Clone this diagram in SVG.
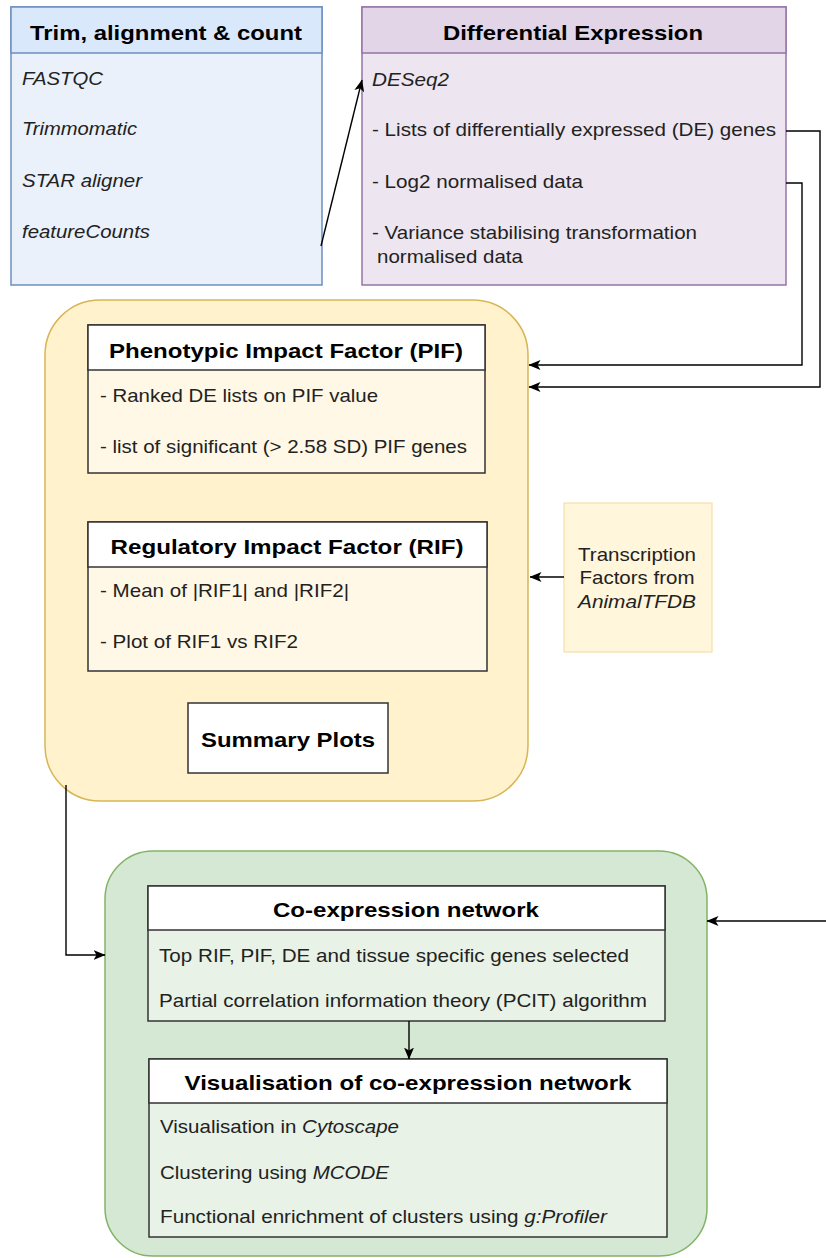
<svg xmlns="http://www.w3.org/2000/svg" width="826" height="1258" viewBox="0 0 826 1258">
<style>
  text { font-family: "Liberation Sans", Arial, sans-serif; }
  .title { font-size: 21px; font-weight: bold; fill: #000; text-anchor: middle; }
  .body { font-size: 19px; fill: #222; }
  .it { font-style: italic; }
  .conn { fill: none; stroke: #000; stroke-width: 1.4; marker-end: url(#arrow); }
  .ibox { stroke: #333; stroke-width: 1.5; }
</style>
<defs>
  <marker id="arrow" viewBox="0 0 12 10" markerWidth="12" markerHeight="10" refX="11.5" refY="5" orient="auto" markerUnits="userSpaceOnUse">
    <path d="M0,0 L12,5 L0,10 L3,5 Z" fill="#000"/>
  </marker>
</defs>
<rect width="826" height="1258" fill="#fff"/>

<g id="trim">
  <rect x="11" y="7" width="311" height="278" fill="#eaf1fb" stroke="#6c8ebf" stroke-width="1.5"/>
  <rect x="11" y="7" width="311" height="46" fill="#dae8fc" stroke="#6c8ebf" stroke-width="1.5"/>
  <text class="title" x="166" y="40" textLength="272" lengthAdjust="spacingAndGlyphs">Trim, alignment &amp; count</text>
  <text class="body it" x="22" y="85" textLength="81" lengthAdjust="spacingAndGlyphs">FASTQC</text>
  <text class="body it" x="22" y="135" textLength="115" lengthAdjust="spacingAndGlyphs">Trimmomatic</text>
  <text class="body it" x="22" y="187" textLength="120" lengthAdjust="spacingAndGlyphs">STAR aligner</text>
  <text class="body it" x="22" y="238" textLength="128" lengthAdjust="spacingAndGlyphs">featureCounts</text>
</g>

<g id="de">
  <rect x="362" y="7" width="424" height="278" fill="#ede6f0" stroke="#9673a6" stroke-width="1.5"/>
  <rect x="362" y="7" width="424" height="46" fill="#e1d5e7" stroke="#9673a6" stroke-width="1.5"/>
  <text class="title" x="573" y="40" textLength="260" lengthAdjust="spacingAndGlyphs">Differential Expression</text>
  <text class="body it" x="372" y="86" textLength="77" lengthAdjust="spacingAndGlyphs">DESeq2</text>
  <text class="body" x="372" y="136" textLength="404" lengthAdjust="spacingAndGlyphs">- Lists of differentially expressed (DE) genes</text>
  <text class="body" x="372" y="188" textLength="211" lengthAdjust="spacingAndGlyphs">- Log2 normalised data</text>
  <text class="body" x="372" y="239" textLength="325" lengthAdjust="spacingAndGlyphs">- Variance stabilising transformation</text>
  <text class="body" x="377" y="263" textLength="146" lengthAdjust="spacingAndGlyphs">normalised data</text>
</g>

<g id="impact">
  <rect x="45" y="300" width="483" height="501" rx="55" ry="55" fill="#fff2cc" stroke="#d6b656" stroke-width="1.5"/>
</g>

<g id="pif">
  <rect class="ibox" x="88" y="325" width="397" height="148" fill="#fff8e6"/>
  <rect class="ibox" x="88" y="325" width="397" height="45" fill="#fff"/>
  <text class="title" x="286" y="358" textLength="354" lengthAdjust="spacingAndGlyphs">Phenotypic Impact Factor (PIF)</text>
  <text class="body" x="100" y="402" textLength="278" lengthAdjust="spacingAndGlyphs">- Ranked DE lists on PIF value</text>
  <text class="body" x="100" y="453" textLength="367" lengthAdjust="spacingAndGlyphs">- list of significant (&gt; 2.58 SD) PIF genes</text>
</g>

<g id="rif">
  <rect class="ibox" x="88" y="522" width="399" height="149" fill="#fff8e6"/>
  <rect class="ibox" x="88" y="522" width="399" height="45" fill="#fff"/>
  <text class="title" x="287" y="554" textLength="353" lengthAdjust="spacingAndGlyphs">Regulatory Impact Factor (RIF)</text>
  <text class="body" x="100" y="597" textLength="249" lengthAdjust="spacingAndGlyphs">- Mean of |RIF1| and |RIF2|</text>
  <text class="body" x="100" y="648" textLength="198" lengthAdjust="spacingAndGlyphs">- Plot of RIF1 vs RIF2</text>
</g>

<g id="summary">
  <rect class="ibox" x="188" y="703" width="200" height="70" fill="#fff"/>
  <text class="title" x="288" y="747" textLength="174" lengthAdjust="spacingAndGlyphs">Summary Plots</text>
</g>

<g id="tf">
  <rect x="564" y="503" width="148" height="149" fill="#fff6dc" stroke="#f3dfa8" stroke-width="1.2"/>
  <text class="body" x="637" y="561" text-anchor="middle" textLength="118" lengthAdjust="spacingAndGlyphs">Transcription</text>
  <text class="body" x="637" y="584" text-anchor="middle" textLength="115" lengthAdjust="spacingAndGlyphs">Factors from</text>
  <text class="body it" x="637" y="608" text-anchor="middle" textLength="118" lengthAdjust="spacingAndGlyphs">AnimalTFDB</text>
</g>

<g id="coexp-group">
  <rect x="105" y="851" width="602" height="405" rx="48" ry="48" fill="#d5e8d4" stroke="#82b366" stroke-width="1.5"/>
</g>

<g id="coexp">
  <rect class="ibox" x="148" y="886" width="517" height="135" fill="#e8f2e7"/>
  <rect class="ibox" x="148" y="886" width="517" height="44" fill="#fff"/>
  <text class="title" x="406" y="917" textLength="266" lengthAdjust="spacingAndGlyphs">Co-expression network</text>
  <text class="body" x="159" y="962" textLength="470" lengthAdjust="spacingAndGlyphs">Top RIF, PIF, DE and tissue specific genes selected</text>
  <text class="body" x="159" y="1007" textLength="488" lengthAdjust="spacingAndGlyphs">Partial correlation information theory (PCIT) algorithm</text>
</g>

<g id="vis">
  <rect class="ibox" x="149" y="1059" width="518" height="178" fill="#e8f2e7"/>
  <rect class="ibox" x="149" y="1059" width="518" height="44" fill="#fff"/>
  <text class="title" x="408" y="1090" textLength="447" lengthAdjust="spacingAndGlyphs">Visualisation of co-expression network</text>
  <text class="body" x="160" y="1133" textLength="239" lengthAdjust="spacingAndGlyphs">Visualisation in <tspan class="it">Cytoscape</tspan></text>
  <text class="body" x="160" y="1179" textLength="229" lengthAdjust="spacingAndGlyphs">Clustering using <tspan class="it">MCODE</tspan></text>
  <text class="body" x="160" y="1223" textLength="447" lengthAdjust="spacingAndGlyphs">Functional enrichment of clusters using <tspan class="it">g:Profiler</tspan></text>
</g>

<g id="connectors">
  <path class="conn" d="M321,246 L362,80"/>
  <path class="conn" d="M786,131 H820 V387 H529"/>
  <path class="conn" d="M786,183 H802 V365 H529"/>
  <path class="conn" d="M564,577 H530"/>
  <path class="conn" d="M66,785 V955 H105"/>
  <path class="conn" d="M826,921 H707"/>
  <path class="conn" d="M409,1021 V1059"/>
</g>
</svg>
